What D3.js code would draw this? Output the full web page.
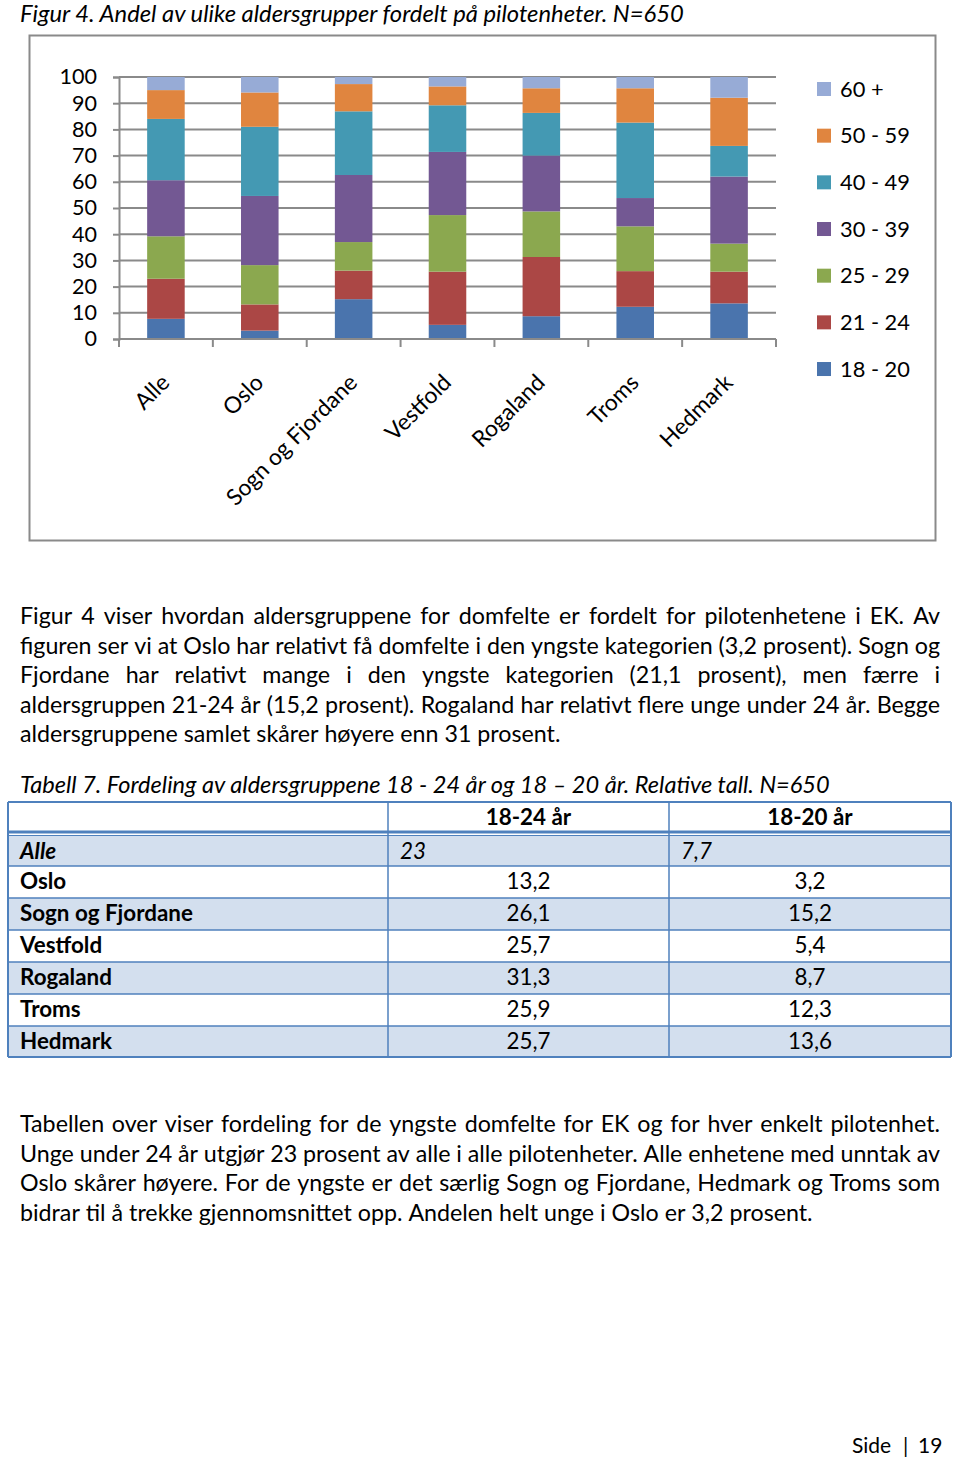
<!DOCTYPE html>
<html><head><meta charset="utf-8">
<script src="https://cdn.jsdelivr.net/npm/d3@7"></script>
<style>
body{margin:0;background:#fff}
svg{display:block}
text{font-family:Lato,"Open Sans",sans-serif;fill:#000}
</style>
</head><body>
<script>
// ---------- data ----------
const categories = ["Alle","Oslo","Sogn og Fjordane","Vestfold","Rogaland","Troms","Hedmark"];
const seriesNames = ["18 - 20","21 - 24","25 - 29","30 - 39","40 - 49","50 - 59","60 +"];
const v18_20 = [7.7, 3.2, 15.2, 5.4, 8.7, 12.3, 13.6];
const v21_24 = [15.3, 10.0, 10.9, 20.3, 22.6, 13.6, 12.1];
const v25_29 = [16.2, 15.0, 10.9, 21.6, 17.4, 17.1, 10.7];
const v30_39 = [21.4, 26.4, 25.6, 24.1, 21.3, 10.8, 25.6];
const v40_49 = [23.4, 26.4, 24.3, 17.8, 16.3, 28.8, 11.7];
const v50_59 = [11.0, 13.1, 10.4, 7.2, 9.4, 13.1, 18.4];
const v60 = [5.0, 5.9, 2.7, 3.6, 4.3, 4.3, 7.9];
const seriesValues = [v18_20, v21_24, v25_29, v30_39, v40_49, v50_59, v60];
const seriesColors = ["#4a74ad","#ab4745","#8ba84f","#735893","#4499b3","#e0853f","#97abd6"];
const yTicks = [0,10,20,30,40,50,60,70,80,90,100];

const tableHeader = ["", "18-24 år", "18-20 år"];
const tableRows = ["Alle","Oslo","Sogn og Fjordane","Vestfold","Rogaland","Troms","Hedmark"];
const col18_24 = ["23","13,2","26,1","25,7","31,3","25,9","25,7"];
const col18_20 = ["7,7","3,2","15,2","5,4","8,7","12,3","13,6"];

const figTitle = "Figur 4. Andel av ulike aldersgrupper fordelt på pilotenheter. N=650";
const tableTitle = "Tabell 7. Fordeling av aldersgruppene 18 - 24 år og 18 – 20 år. Relative tall. N=650";
const para1 = [
 "Figur 4 viser hvordan aldersgruppene for domfelte er fordelt for pilotenhetene i EK. Av",
 "figuren ser vi at Oslo har relativt få domfelte i den yngste kategorien (3,2 prosent). Sogn og",
 "Fjordane har relativt mange i den yngste kategorien (21,1 prosent), men færre i",
 "aldersgruppen 21-24 år (15,2 prosent). Rogaland har relativt flere unge under 24 år. Begge",
 "aldersgruppene samlet skårer høyere enn 31 prosent."
];
const para2 = [
 "Tabellen over viser fordeling for de yngste domfelte for EK og for hver enkelt pilotenhet.",
 "Unge under 24 år utgjør 23 prosent av alle i alle pilotenheter. Alle enhetene med unntak av",
 "Oslo skårer høyere. For de yngste er det særlig Sogn og Fjordane, Hedmark og Troms som",
 "bidrar til å trekke gjennomsnittet opp. Andelen helt unge i Oslo er 3,2 prosent."
];
const footerParts = ["Side", "|", "19"];

// ---------- setup ----------
const W = 960, H = 1458;
const svg = d3.select("body").append("svg").attr("width", W).attr("height", H);
svg.append("rect").attr("width", W).attr("height", H).attr("fill", "#fff");

const meas = svg.append("text").attr("x", -1000).attr("y", -1000);
function measure(str, fs, weight, style) {
  meas.attr("font-size", fs).attr("font-weight", weight || "normal").attr("font-style", style || "normal").text(str);
  return meas.node().getComputedTextLength();
}
function fit(str, target, weight, style) {
  return 20 * target / measure(str, 20, weight, style);
}

// ---------- chart ----------
svg.append("text").attr("x", 20).attr("y", 21.5)
  .attr("font-style", "italic").attr("font-size", fit(figTitle, 664, "normal", "italic")).text(figTitle);

svg.append("rect").attr("x", 29.5).attr("y", 35.5).attr("width", 906).attr("height", 505)
  .attr("fill", "#fff").attr("stroke", "#8a8a8a").attr("stroke-width", 2);

const x = d3.scaleBand().domain(categories).range([119, 776]).paddingInner(0.6).paddingOuter(0.3);
const y = d3.scaleLinear().domain([0, 100]).range([339, 77]);

const chart = svg.append("g");
const tickFs = fit("100", 37.5);

// gridlines + y ticks
const yAxis = d3.axisLeft(y).tickValues(yTicks).tickSize(6).tickPadding(16).tickFormat(d3.format("d"));
const ya = chart.append("g").attr("transform", "translate(119,0)").call(yAxis);
ya.select(".domain").attr("stroke", "#8a8a8a").attr("stroke-width", 2);
ya.selectAll(".tick line").attr("stroke", "#8a8a8a").attr("stroke-width", 2);
ya.selectAll(".tick text").attr("font-size", tickFs).attr("font-family", "Lato").attr("fill", "#000");
chart.append("g").selectAll("line").data(yTicks.filter(d => d > 0)).join("line")
  .attr("x1", 119).attr("x2", 776).attr("y1", d => y(d)).attr("y2", d => y(d))
  .attr("stroke", "#8a8a8a").attr("stroke-width", 2);

// stacked bars
const table = categories.map((c, i) => {
  const o = { cat: c };
  seriesNames.forEach((s, j) => o[s] = seriesValues[j][i]);
  return o;
});
const stack = d3.stack().keys(seriesNames)(table);
chart.append("g").selectAll("g").data(stack).join("g")
  .attr("fill", (d, i) => seriesColors[i])
  .selectAll("rect").data(d => d).join("rect")
  .attr("x", d => x(d.data.cat)).attr("width", x.bandwidth())
  .attr("y", d => y(d[1])).attr("height", d => y(d[0]) - y(d[1]));

// x axis
const step = x.step();
chart.append("line").attr("x1", 119).attr("x2", 776).attr("y1", 339).attr("y2", 339)
  .attr("stroke", "#8a8a8a").attr("stroke-width", 2);
chart.append("g").selectAll("line").data(d3.range(categories.length + 1)).join("line")
  .attr("x1", i => 119 + i * step).attr("x2", i => 119 + i * step)
  .attr("y1", 339).attr("y2", 347).attr("stroke", "#8a8a8a").attr("stroke-width", 2);
const labFs = fit("Sogn og Fjordane", 174);
chart.append("g").selectAll("text").data(categories).join("text")
  .attr("text-anchor", "end").attr("font-size", labFs)
  .attr("transform", d => `translate(${x(d) + x.bandwidth() / 2 + 5},${384}) rotate(-45)`)
  .text(d => d);

// legend
const legFs = fit("50 - 59", 70);
const lg = chart.append("g").selectAll("g").data(seriesNames.slice().reverse()).join("g")
  .attr("transform", (d, i) => `translate(817,${89 + i * 46.67})`);
lg.append("rect").attr("x", 0).attr("y", -7).attr("width", 14).attr("height", 14)
  .attr("fill", d => seriesColors[seriesNames.indexOf(d)]);
lg.append("text").attr("x", 23).attr("y", 0).attr("dy", "0.35em").attr("font-size", legFs).text(d => d);

// ---------- paragraphs ----------
const pFs = fit(para1[1], 919);
function paragraph(lines, y0, lh) {
  const g = svg.append("g");
  const spaceW = measure("a a", pFs) - measure("aa", pFs);
  lines.forEach((ln, i) => {
    const words = ln.split(" ");
    const ws = words.map(w => measure(w, pFs));
    const sum = d3.sum(ws);
    const last = i === lines.length - 1;
    const gap = last ? spaceW : (920 - sum) / (words.length - 1);
    let cx = 20;
    const t = g.append("text").attr("y", y0 + i * lh).attr("font-size", pFs);
    words.forEach((w, k) => {
      t.append("tspan").attr("x", cx).text(w);
      cx += ws[k] + gap;
    });
  });
}
paragraph(para1, 624, 29.6);
paragraph(para2, 1132, 29.7);

// ---------- table ----------
svg.append("text").attr("x", 20).attr("y", 793).attr("font-style", "italic")
  .attr("font-size", fit(tableTitle, 810, "normal", "italic")).text(tableTitle);

const tFs = fit("Sogn og Fjordane", 173, "bold");
const colX = [8, 388, 669, 951];
const rowTop = [836, 866, 898, 930, 962, 994, 1026];
const rowBot = [866, 898, 930, 962, 994, 1026, 1057];
const tg = svg.append("g");
const blue = "#4f81bd";
tg.selectAll("rect.shade").data(tableRows).join("rect").attr("class", "shade")
  .attr("x", colX[0]).attr("width", colX[3] - colX[0])
  .attr("y", (d, i) => rowTop[i]).attr("height", (d, i) => rowBot[i] - rowTop[i])
  .attr("fill", (d, i) => i % 2 === 0 ? "#d3dfee" : "#fff");
tg.append("line").attr("x1", colX[0]).attr("x2", colX[3]).attr("y1", 802).attr("y2", 802).attr("stroke", blue).attr("stroke-width", 2);
tg.append("line").attr("x1", colX[0]).attr("x2", colX[3]).attr("y1", 832).attr("y2", 832).attr("stroke", blue).attr("stroke-width", 3);
tg.append("line").attr("x1", colX[0]).attr("x2", colX[3]).attr("y1", 835.5).attr("y2", 835.5).attr("stroke", blue).attr("stroke-width", 1);
tg.selectAll("line.h").data(rowBot).join("line").attr("class", "h")
  .attr("x1", colX[0]).attr("x2", colX[3]).attr("y1", d => d).attr("y2", d => d)
  .attr("stroke", blue).attr("stroke-width", (d, i) => i === rowBot.length - 1 ? 2 : 1.5);
tg.selectAll("line.v").data(colX).join("line").attr("class", "v")
  .attr("x1", d => d).attr("x2", d => d).attr("y1", 802).attr("y2", 1057)
  .attr("stroke", blue).attr("stroke-width", (d, i) => (i === 0 || i === 3) ? 2 : 1.5);
tg.selectAll("text.hd").data(tableHeader.slice(1)).join("text").attr("class", "hd")
  .attr("x", (d, i) => (colX[i + 1] + colX[i + 2]) / 2).attr("y", 825)
  .attr("text-anchor", "middle").attr("font-weight", "bold").attr("font-size", tFs).text(d => d);
tableRows.forEach((r, i) => {
  const yy = rowTop[i] + 23;
  const first = i === 0;
  tg.append("text").attr("x", 20).attr("y", yy).attr("font-weight", "bold")
    .attr("font-style", first ? "italic" : "normal").attr("font-size", tFs).text(r);
  [col18_24[i], col18_20[i]].forEach((v, k) => {
    tg.append("text")
      .attr("x", first ? colX[k + 1] + 12 : (colX[k + 1] + colX[k + 2]) / 2)
      .attr("text-anchor", first ? "start" : "middle")
      .attr("font-style", first ? "italic" : "normal")
      .attr("y", yy).attr("font-size", tFs).text(v);
  });
});

// footer
const fFs = 21;
const footerX = [852, 903, 918];
svg.append("g").selectAll("text").data(footerParts).join("text")
  .attr("x", (d, i) => footerX[i]).attr("y", 1453).attr("font-size", fFs).text(d => d);

meas.remove();
</script>
</body></html>
